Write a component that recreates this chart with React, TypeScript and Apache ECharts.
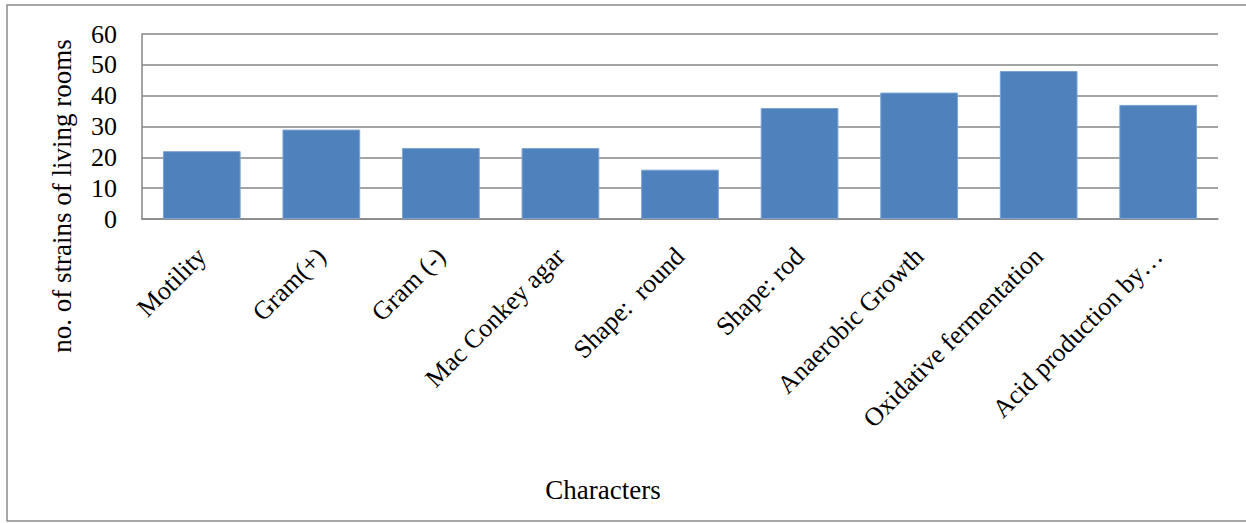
import React, { useEffect, useRef } from "react";
import * as echarts from "echarts";

const categories = [
  "Motility",
  "Gram(+)",
  "Gram (-)",
  "Mac Conkey agar",
  "Shape:  round",
  "Shape: rod",
  "Anaerobic Growth",
  "Oxidative fermentation",
  "Acid production by…",
];
const values = [22, 29, 23, 23, 16, 36, 41, 48, 37];
const yTicks = { min: 0, max: 60, interval: 10 };
const yTitle = "no. of strains of living rooms";
const xTitle = "Characters";

const FONT = "'Liberation Serif', 'Times New Roman', serif";

export default function App() {
  const ref = useRef<HTMLDivElement>(null);
  useEffect(() => {
    if (!ref.current) return;
    const chart = echarts.init(ref.current, undefined, { renderer: "svg" });
    chart.setOption({
      animation: false,
      backgroundColor: "#ffffff",
      grid: { left: 142, top: 34, right: 28, bottom: 304, containLabel: false },
      xAxis: {
        type: "category",
        data: categories,
        axisLine: { show: true, lineStyle: { color: "#868686", width: 1.5 } },
        axisTick: { show: false },
        axisLabel: {
          rotate: 45,
          interval: 0,
          margin: 33,
          color: "#000",
          fontFamily: FONT,
          fontSize: 26,
        },
      },
      yAxis: {
        type: "value",
        min: yTicks.min,
        max: yTicks.max,
        interval: yTicks.interval,
        axisLine: { show: true, lineStyle: { color: "#868686", width: 1.5 } },
        axisTick: { show: false },
        splitLine: { show: true, lineStyle: { color: "#868686", width: 1.5 } },
        axisLabel: {
          margin: 25,
          color: "#000",
          fontFamily: FONT,
          fontSize: 26,
        },
      },
      series: [
        {
          type: "bar",
          data: values,
          barCategoryGap: "35%",
          itemStyle: { color: "#4F81BD", borderColor: "#7aa3d4", borderWidth: 1 },
        },
      ],
      graphic: [
        {
          type: "rect",
          shape: { x: 7, y: 5, width: 1260, height: 516 },
          style: { fill: "none", stroke: "#8c8c8c", lineWidth: 1.5 },
          silent: true,
          z: -1,
        },
        {
          type: "text",
          x: 62,
          y: 196,
          rotation: Math.PI / 2,
          style: {
            text: yTitle,
            fontFamily: FONT,
            fontSize: 27,
            fill: "#000",
            align: "center",
            verticalAlign: "middle",
          },
        },
        {
          type: "text",
          x: 603,
          y: 490,
          style: {
            text: xTitle,
            fontFamily: FONT,
            fontSize: 27,
            fill: "#000",
            align: "center",
            verticalAlign: "middle",
          },
        },
      ],
    });
    return () => chart.dispose();
  }, []);
  return (
    <div
      ref={ref}
      style={{ position: "absolute", left: 0, top: 0, width: 1246, height: 523 }}
    />
  );
}
